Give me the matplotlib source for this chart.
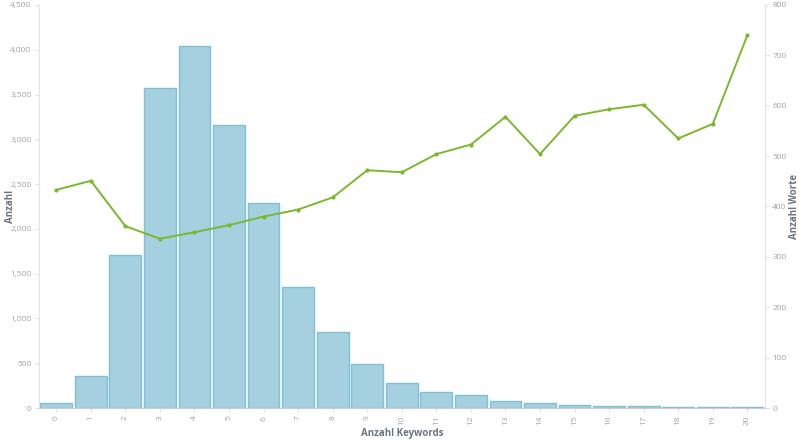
import numpy as np
import matplotlib
matplotlib.use('Agg')
from matplotlib import pyplot as plt
from matplotlib.ticker import FuncFormatter

plt.rcParams['font.family'] = ['Open Sans', 'DejaVu Sans']

keywords = list(range(21))
anzahl = [52, 357, 1708, 3573, 4042, 3160, 2285, 1355, 849, 495, 283,
          175, 145, 75, 56, 33, 26, 22, 14, 10, 6]
worte = [433, 451, 361, 336, 349, 363, 380, 394, 418, 472, 468,
         504, 523, 578, 504, 580, 593, 602, 535, 564, 740]

tick_col = '#a0a4a8'
label_col = '#6b7680'
axis_col = '#e2e2e2'

fig = plt.figure(figsize=(7.99, 4.41), dpi=100)
ax = fig.add_axes([0.0488, 0.0748, 0.9082, 0.9139])
ax2 = ax.twinx()

ax.bar(keywords, anzahl, width=0.92, color='#a5d0df', edgecolor='#7fc0d4', linewidth=1.0, zorder=2)
ax2.plot(keywords, worte, color='#7cb82f', linewidth=1.4, marker='o', markersize=2, zorder=3)

ax.set_xlim(-0.5, 20.5)
ax.set_ylim(0, 4500)
ax2.set_ylim(0, 800)
ax.set_yticks(np.arange(0, 4501, 500))
ax2.set_yticks(np.arange(0, 801, 100))
ax.yaxis.set_major_formatter(FuncFormatter(lambda v, p: f'{int(v):,}'))
ax.set_xticks(keywords)
ax.set_xticklabels([str(k) for k in keywords], rotation=90)

for a in (ax, ax2):
    a.spines['top'].set_visible(False)
    a.spines['left'].set_color(axis_col)
    a.spines['right'].set_color(axis_col)
    a.spines['bottom'].set_color('#cccccc')
    a.tick_params(colors=axis_col, labelcolor=tick_col, labelsize=6, length=3, width=0.8, pad=2.5)
ax.spines['right'].set_visible(False)
ax2.spines['left'].set_visible(False)
ax2.spines['bottom'].set_visible(False)

ax.set_xlabel('Anzahl Keywords', fontsize=7, fontweight='bold', color=label_col)
ax.set_ylabel('Anzahl', fontsize=7, fontweight='bold', color=label_col)
ax2.set_ylabel('Anzahl Worte', fontsize=7, fontweight='bold', color=label_col, rotation=90)
ax.xaxis.set_label_coords(0.5, -0.05)
ax.yaxis.set_label_coords(-0.031, 0.5)
ax2.yaxis.set_label_coords(1.034, 0.5)

fig.savefig('out.png', dpi=100)
